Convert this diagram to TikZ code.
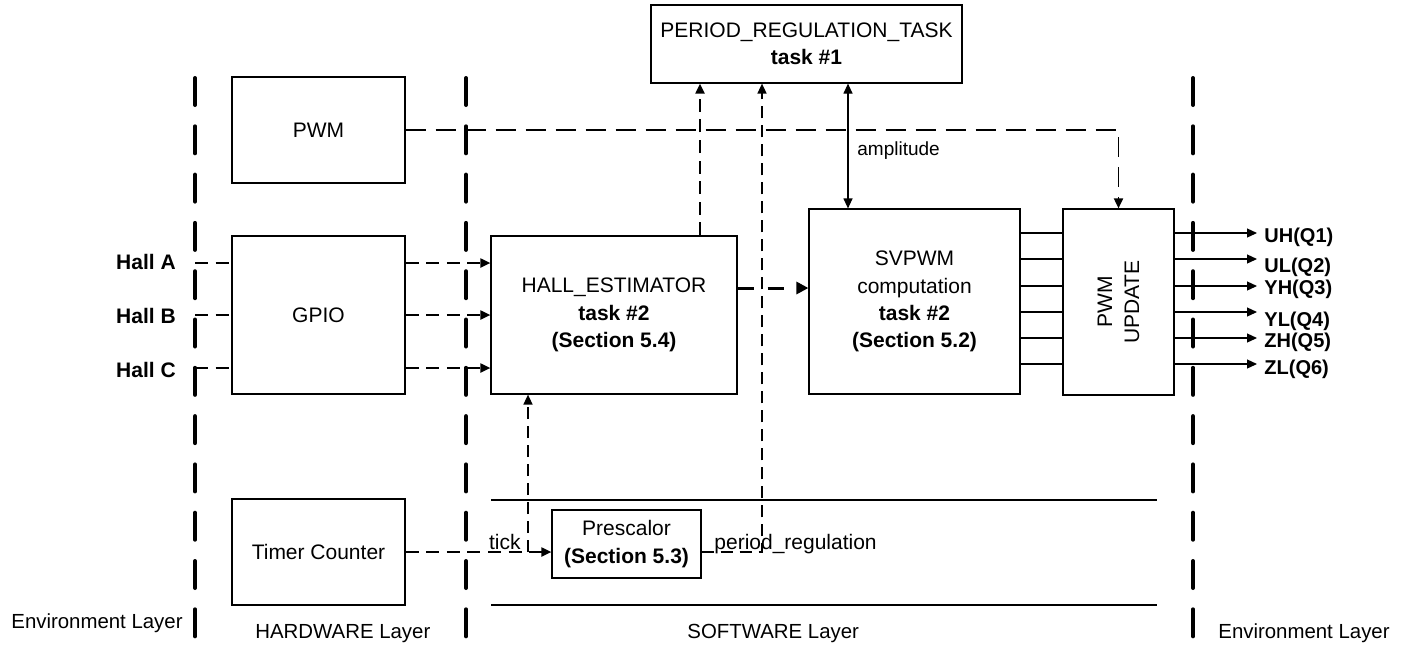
\documentclass[tikz,border=0pt]{standalone}
\usepackage{fontspec}
\setmainfont{Liberation Sans}
\usetikzlibrary{arrows.meta}

\begin{document}
\begin{tikzpicture}[x=0.5pt,y=-0.5pt,
  font=\fontsize{10.5}{13.6}\selectfont,
  blk/.style={draw, line width=0.6pt, inner sep=0pt, align=center},
  layer/.style={line width=2pt, line cap=round, dash pattern=on 13.5pt off 10.65pt},
  dsig/.style={line width=1pt, dash pattern=on 6.5pt off 3.8pt},
  dthin/.style={line width=0.8pt, dash pattern=on 6pt off 3.5pt},
  dlong/.style={line width=0.9pt, dash pattern=on 10pt off 5pt},
  dbold/.style={line width=1.5pt, dash pattern=on 8pt off 7pt},
  sig/.style={line width=0.6pt},
  tip/.style={-{Triangle[length=5pt,width=4.5pt]}},
  tipbig/.style={-{Triangle[length=6pt,width=6pt]}},
  lbl/.style={inner sep=0pt},
  outlbl/.style={inner sep=0pt, anchor=base west, font=\fontsize{10}{12}\selectfont\bfseries},
  hall/.style={inner sep=0pt, anchor=base, font=\fontsize{10.5}{12}\selectfont\bfseries},
  layername/.style={inner sep=0pt, anchor=base west, font=\fontsize{10.2}{12}\selectfont}
]
\useasboundingbox (0,0) rectangle (1408,645);

% layer boundaries
\draw[layer] (195,78) -- (195,637);
\draw[layer] (466,78) -- (466,637);
\draw[layer] (1193,78) -- (1193,637);

% timing band around the prescaler
\draw[sig] (491,500) -- (1157,500);
\draw[sig] (491,605) -- (1157,605);

% blocks
\node[blk, minimum width=86.5pt, minimum height=53pt] (pwm) at (318.5,130) {PWM};
\node[blk, minimum width=86.5pt, minimum height=79pt] (gpio) at (318.5,315) {GPIO};
\node[blk, minimum width=86.5pt, minimum height=53pt] (timer) at (318.5,552) {Timer Counter};
\node[blk, minimum width=123pt, minimum height=79pt] (est) at (614,315)
  {HALL\_ESTIMATOR\\\textbf{task \#2}\\\textbf{(Section 5.4)}};
\node[blk, minimum width=105.5pt, minimum height=92.5pt] (svpwm) at (914.5,301.5)
  {SVPWM\\computation\\\textbf{task \#2}\\\textbf{(Section 5.2)}};
\node[blk, minimum width=55.5pt, minimum height=93pt] (upd) at (1118.5,302) {};
\node[lbl, rotate=90, align=center] (updtxt) at (upd.center) {PWM\\UPDATE};
\node[blk, minimum width=155.5pt, minimum height=39pt] (period) at (806.5,44)
  {PERIOD\_REGULATION\_TASK\\\textbf{task \#1}};
\node[blk, minimum width=74.5pt, minimum height=34pt] (presc) at (626.5,544)
  {Prescalor\\\textbf{(Section 5.3)}};

% hall sensor inputs
\node[hall] (hallA) at (146,269) {Hall A};
\node[hall] (hallB) at (146,323) {Hall B};
\node[hall] (hallC) at (146,377) {Hall C};
\coordinate (ha) at (195,263);
\coordinate (hb) at (195,315);
\coordinate (hc) at (195,368);
\draw[dsig] (ha) -- (gpio.west |- ha);
\draw[dsig] (hb) -- (gpio.west |- hb);
\draw[dsig] (hc) -- (gpio.west |- hc);
\draw[dsig, tip] (gpio.east |- ha) -- (est.west |- ha);
\draw[dsig, tip] (gpio.east |- hb) -- (est.west |- hb);
\draw[dsig, tip] (gpio.east |- hc) -- (est.west |- hc);

% estimator to SVPWM
\coordinate (ev) at (0,288);
\draw[dbold, tipbig] (est.east |- ev) -- (svpwm.west |- ev);

% PWM to PWM update
\draw[dlong, tip] (pwm.east) -| (upd.north);

% estimator to period task
\coordinate (c700) at (700,0);
\draw[dsig, tip] (est.north -| c700) -- (period.south -| c700);

% tick path
\coordinate (tk) at (0,552);
\coordinate (c528) at (528,0);
\draw[dsig, tip] (timer.east |- tk) -- (presc.west |- tk);
\draw[dthin, tip] (c528 |- tk) -- (est.south -| c528);
\node[lbl, anchor=base east] (ticklbl) at (521,549) {tick};

% period regulation path
\coordinate (c762) at (762,0);
\draw[dthin, tip] (presc.east |- tk) -| (period.south -| c762);
\node[lbl, anchor=base west] (preglbl) at (714,549) {period\_regulation};

% amplitude
\coordinate (c848) at (848,0);
\draw[sig, {Triangle[length=5pt,width=4.5pt]}-{Triangle[length=5pt,width=4.5pt]}]
  (period.south -| c848) -- (svpwm.north -| c848);
\node[lbl, anchor=base west, font=\fontsize{9.5}{12}\selectfont] (amplbl) at (857,155) {amplitude};

% phase outputs
\foreach \i/\y/\by/\t in {1/233/242/UH(Q1), 2/259/272/UL(Q2), 3/286/294/YH(Q3),
                          4/312/326/YL(Q4), 5/338/347/ZH(Q5), 6/364/374/ZL(Q6)} {
  \coordinate (o\i) at (0,\y);
  \coordinate (e\i) at (1257,\y);
  \draw[sig] (svpwm.east |- o\i) -- (upd.west |- o\i);
  \draw[sig, tip] (upd.east |- o\i) -- (e\i);
  \node[outlbl] (q\i) at (1264,\by) {\t};
}

% layer names
\node[layername] (envL) at (11,628) {Environment Layer};
\node[layername] (hwL) at (255,638) {HARDWARE Layer};
\node[layername] (swL) at (687,638) {SOFTWARE Layer};
\node[layername] (envR) at (1218,638) {Environment Layer};
\end{tikzpicture}
\end{document}
